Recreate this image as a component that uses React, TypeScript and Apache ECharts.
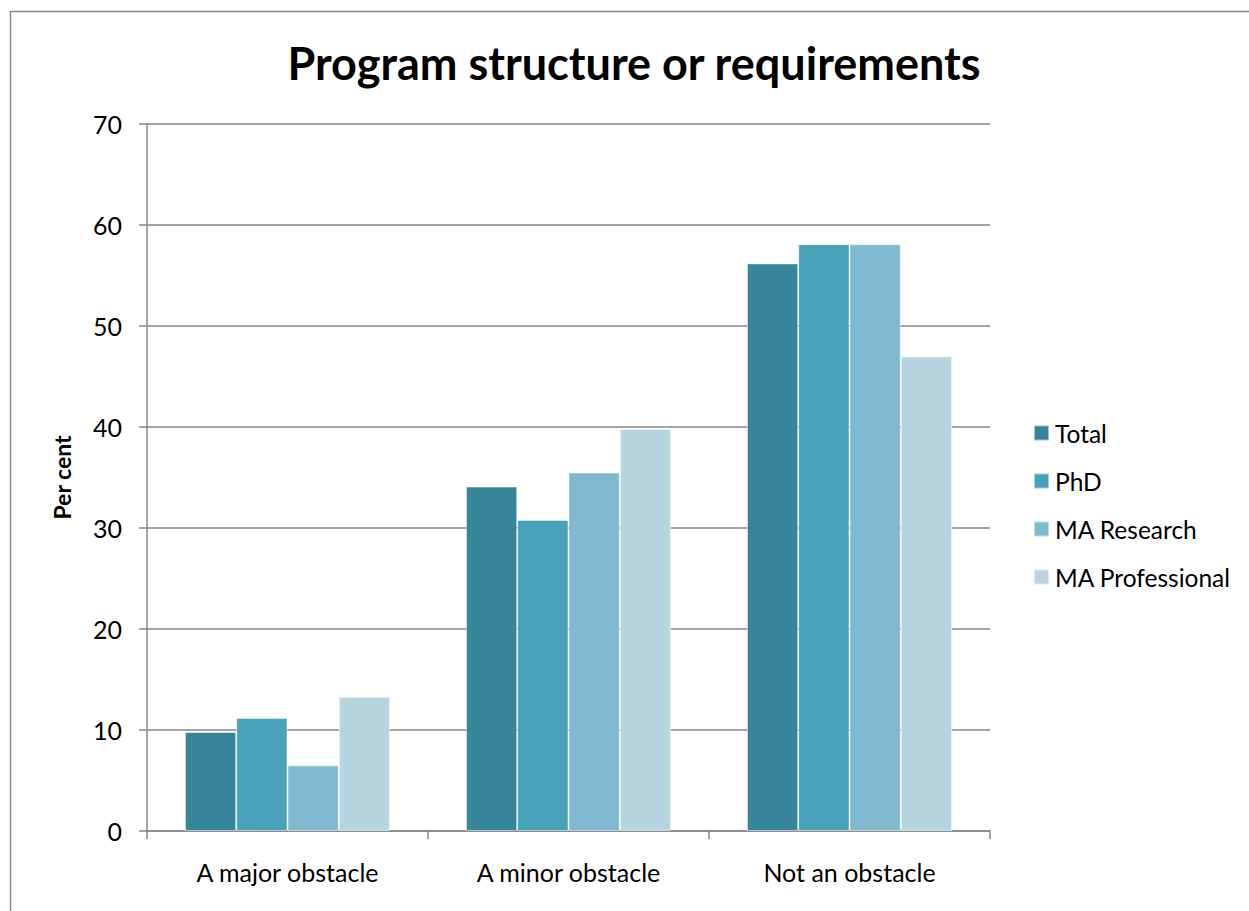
import React, { useEffect, useRef } from "react";
import * as echarts from "echarts";

const categories = ["A major obstacle", "A minor obstacle", "Not an obstacle"];
const seriesNames = ["Total", "PhD", "MA Research", "MA Professional"];
const totalValues = [9.8, 34.1, 56.2];
const phdValues = [11.2, 30.8, 58.1];
const maResearchValues = [6.5, 35.5, 58.1];
const maProfessionalValues = [13.3, 39.8, 47.0];
const colors = ["#37859A", "#47A1B9", "#7EB9CF", "#B7D5E0"];

const FONT = "Lato, 'Open Sans', sans-serif";

export default function App() {
  const ref = useRef<HTMLDivElement>(null);
  useEffect(() => {
    if (!ref.current) return;
    const chart = echarts.init(ref.current, undefined, { renderer: "svg" });
    const values = [totalValues, phdValues, maResearchValues, maProfessionalValues];
    chart.setOption({
      animation: false,
      backgroundColor: "#ffffff",
      title: {
        text: "Program structure or requirements",
        left: 629,
        top: 35,
        textAlign: "center",
        textStyle: { fontFamily: FONT, fontSize: 45, fontWeight: "bold", color: "#000" },
      },
      graphic: [
        {
          type: "rect",
          shape: { x: 10.5, y: 11.5, width: 1400, height: 1100 },
          style: { fill: "none", stroke: "#8a8a8a", lineWidth: 1.5 },
          silent: true,
        },
      ],
      legend: {
        orient: "vertical",
        left: 1028,
        top: 413,
        itemWidth: 15,
        itemHeight: 15,
        itemGap: 18,
        icon: "rect",
        textStyle: { fontFamily: FONT, fontSize: 24.5, lineHeight: 30, color: "#000", padding: [0, 0, 0, 1] },
        data: seriesNames,
      },
      grid: { left: 147, right: 259, top: 124, bottom: 80, containLabel: false },
      xAxis: {
        type: "category",
        data: categories,
        axisLine: { lineStyle: { color: "#868686", width: 1.5 } },
        axisTick: { show: true, length: 8, lineStyle: { color: "#868686", width: 1.5 } },
        axisLabel: { fontFamily: FONT, fontSize: 25, color: "#000", margin: 28 },
      },
      yAxis: {
        type: "value",
        min: 0,
        max: 70,
        interval: 10,
        name: "Per cent",
        nameLocation: "middle",
        nameGap: 74,
        nameRotate: 90,
        nameTextStyle: { fontFamily: FONT, fontSize: 23, fontWeight: "bold", color: "#000" },
        axisLine: { show: true, lineStyle: { color: "#868686", width: 1.5 } },
        axisTick: { show: true, length: 8, lineStyle: { color: "#868686", width: 1.5 } },
        splitLine: { show: true, lineStyle: { color: "#868686", width: 1.5 } },
        axisLabel: { fontFamily: FONT, fontSize: 25, color: "#000", margin: 25 },
      },
      series: seriesNames.map((name, i) => ({
        name,
        type: "bar",
        data: values[i],
        barGap: "0%",
        barCategoryGap: "27%",
        itemStyle: { color: colors[i], borderColor: "rgba(255,255,255,0.5)", borderWidth: 1 },
      })),
    });
    return () => chart.dispose();
  }, []);
  return (
    <div
      ref={ref}
      style={{ position: "absolute", left: 0, top: 0, width: 1249, height: 911 }}
    />
  );
}
